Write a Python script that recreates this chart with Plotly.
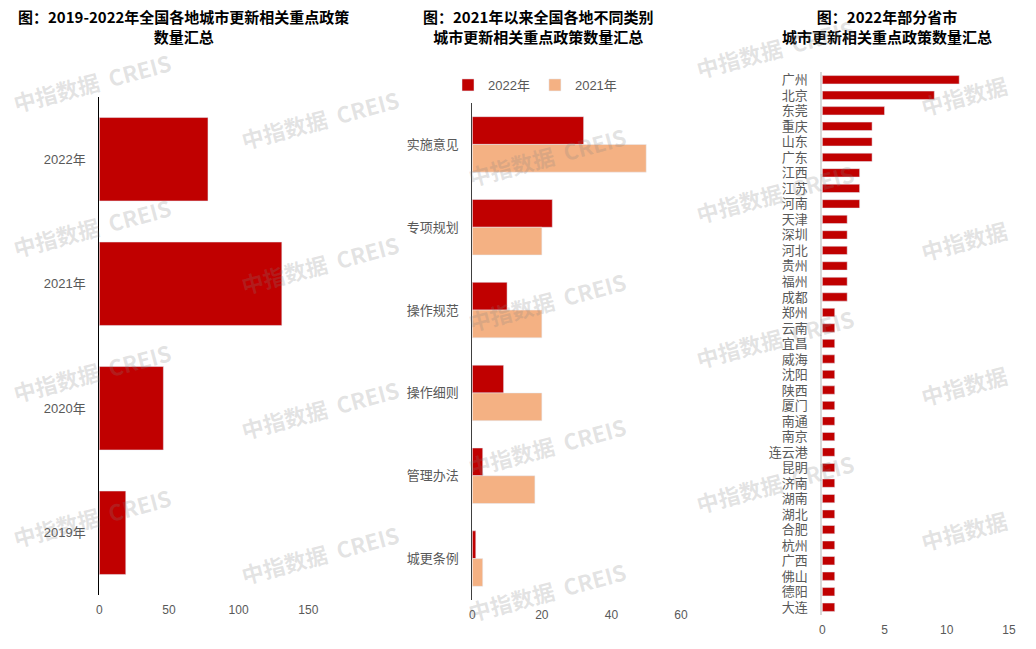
""" 城市更新相关重点政策数量汇总：三个横向条形图 """
import plotly.graph_objects as go

W, H = 1036, 649

# 左图：2019-2022年全国各地城市更新相关重点政策数量
years = ['2022年', '2021年', '2020年', '2019年']
year_counts = [78, 131, 46, 19]

# 中图：2021年以来不同类别政策数量
policy_types = ['实施意见', '专项规划', '操作规范', '操作细则', '管理办法', '城更条例']
counts_2022 = [32, 23, 10, 9, 3, 1]
counts_2021 = [50, 20, 20, 20, 18, 3]

# 右图：2022年部分省市政策数量
cities = ['广州', '北京', '东莞', '重庆', '山东', '广东', '江西', '江苏', '河南',
          '天津', '深圳', '河北', '贵州', '福州', '成都', '郑州', '云南', '宜昌',
          '威海', '沈阳', '陕西', '厦门', '南通', '南京', '连云港', '昆明', '济南',
          '湖南', '湖北', '合肥', '杭州', '广西', '佛山', '德阳', '大连']
city_counts = [11, 9, 5, 4, 4, 4, 3, 3, 3, 2, 2, 2, 2, 2, 2, 1, 1, 1,
               1, 1, 1, 1, 1, 1, 1, 1, 1, 1, 1, 1, 1, 1, 1, 1, 1]

RED = '#C00000'
PEACH = '#F4B183'
FONT = 'Arial, "Liberation Sans", "Noto Sans CJK SC", sans-serif'
TICK_COLOR = '#595959'


def px_x(p):
    return p / W


def px_y(p):
    return 1 - p / H


fig = go.Figure()

fig.add_trace(go.Bar(x=year_counts, y=years, orientation='h',
                     marker={'color': RED}, showlegend=False,
                     xaxis='x', yaxis='y'))
fig.add_trace(go.Bar(x=counts_2022, y=policy_types, orientation='h', name='2022年',
                     marker={'color': RED}, xaxis='x2', yaxis='y2'))
fig.add_trace(go.Bar(x=counts_2021, y=policy_types, orientation='h', name='2021年',
                     marker={'color': PEACH}, xaxis='x2', yaxis='y2'))
fig.add_trace(go.Bar(x=city_counts, y=cities, orientation='h', width=0.54,
                     marker={'color': RED}, showlegend=False,
                     xaxis='x3', yaxis='y3'))

xcommon = dict(showgrid=False, zeroline=False, showline=False, ticks='',
               tickfont={'size': 12, 'color': TICK_COLOR, 'family': FONT},
               ticklabelstandoff=6, fixedrange=True, automargin=False)
ycommon = dict(showgrid=False, zeroline=False, ticks='', autorange='reversed',
               tickfont={'size': 13, 'color': TICK_COLOR, 'family': FONT},
               ticklabelstandoff=10, fixedrange=True, automargin=False)

fig.update_layout(
    width=W, height=H,
    margin={'l': 0, 'r': 0, 't': 0, 'b': 0, 'autoexpand': False},
    paper_bgcolor='white', plot_bgcolor='white',
    barmode='group', bargap=0.33, bargroupgap=0,
    font={'family': FONT},
    xaxis=dict(xcommon, domain=[px_x(99.3), px_x(308.3)], range=[0, 150],
               tickvals=[0, 50, 100, 150]),
    yaxis=dict(ycommon, domain=[px_y(595), px_y(97)], showline=True,
               linecolor='#000000', linewidth=1),
    xaxis2=dict(xcommon, domain=[px_x(472.3), px_x(681)], range=[0, 60],
                tickvals=[0, 20, 40, 60], anchor='y2'),
    yaxis2=dict(ycommon, domain=[px_y(600), px_y(103)], showline=True,
                linecolor='#404040', linewidth=1, anchor='x2'),
    xaxis3=dict(xcommon, domain=[px_x(822.3), px_x(1009)], range=[0, 15],
                tickvals=[0, 5, 10, 15], anchor='y3'),
    yaxis3=dict(ycommon, domain=[px_y(615), px_y(72)], showline=True,
                linecolor='#D9D9D9', linewidth=2, anchor='x3',
                tickmode='array', tickvals=cities, ticktext=cities),
    legend={'orientation': 'h', 'x': px_x(535), 'xanchor': 'center',
            'y': px_y(85), 'yanchor': 'middle',
            'font': {'size': 13, 'color': TICK_COLOR, 'family': FONT},
            'bgcolor': 'rgba(0,0,0,0)'},
)

titles = [
    ('图：2019-2022年全国各地城市更新相关重点政策<br>数量汇总', 183),
    ('图：2021年以来全国各地不同类别<br>城市更新相关重点政策数量汇总', 538),
    ('图：2022年部分省市<br>城市更新相关重点政策数量汇总', 887),
]
for text, cx in titles:
    fig.add_annotation(text=f'<b>{text}</b>', x=px_x(cx), y=px_y(4),
                       xref='paper', yref='paper', xanchor='center', yanchor='top',
                       showarrow=False, align='center',
                       font={'size': 15, 'color': '#000000',
                             'family': '"Noto Sans CJK SC", sans-serif'})

# 水印：中指数据 CREIS（最右一列只露出“中指数据”）
for col in range(5):
    cx = 92 + 227.5 * col
    for row in range(-1, 5):
        cy = 82 + 37 * col + 145 * row
        if cy < 30 or cy > H - 40:
            continue
        text, x = '<b>中指数据  CREIS</b>', cx
        if col == 4:
            text, x, cy = '<b>中指数据</b>', cx - 38, cy + 10
        fig.add_annotation(text=text, x=px_x(x), y=px_y(cy),
                           xref='paper', yref='paper', showarrow=False,
                           xanchor='center', yanchor='middle', textangle=-15,
                           font={'size': 22, 'color': 'rgba(128,128,128,0.22)',
                                 'family': '"Noto Sans CJK SC", sans-serif'})

# 去掉页面默认边距，让图与窗口左上角对齐
fig.write_html('out.html', config={'displayModeBar': False},
               post_script="document.body.style.margin = '0px';")
